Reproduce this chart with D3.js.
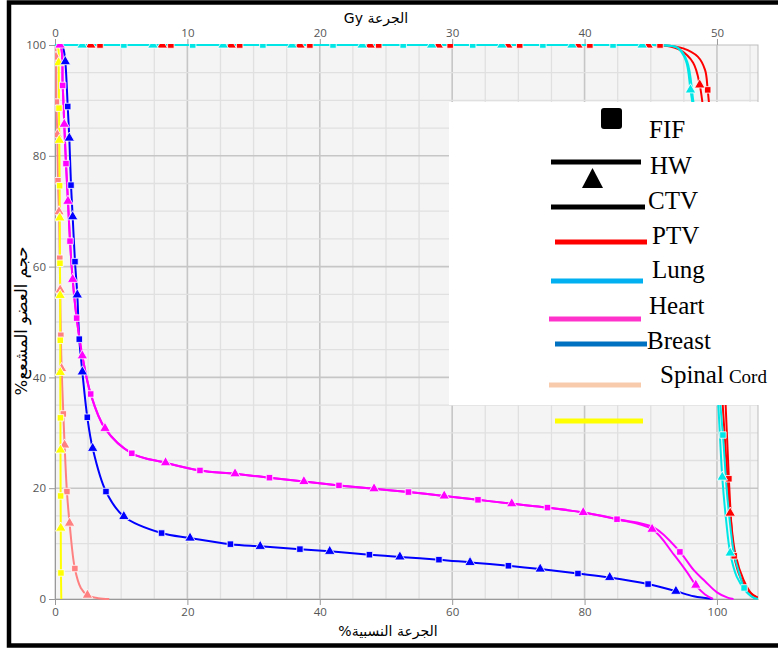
<!DOCTYPE html>
<html>
<head>
<meta charset="utf-8">
<script src="https://cdn.jsdelivr.net/npm/d3@7"></script>
<style>
body{margin:0;background:#fff;}
svg{display:block;}
</style>
</head>
<body>
<script>
// dose (% of prescription) vs volume (%), "s" = FIF square marker, "t" = HW triangle marker
var ctvFif = [[0,100],[10.4,100,"s"],[20.8,100,"s"],[31.4,100,"s"],[42.0,100,"s"],[52.6,100,"s"],[63.1,100,"s"],[73.7,100,"s"],[84.3,100,"s"],
    [92.5,99.9],[94.2,99.4],[95.5,97],[96.4,90.1],[97.5,78],[98.8,60],[100.0,42],[100.9,29.6,"s"],[101.6,18],[102.6,8],[103.4,4.5],[104.1,2.0,"s"],[105.3,0.4],[106.2,0]];
var ctvHw = [[0,100],[4.1,100,"t"],[14.8,100,"t"],[25.4,100,"t"],[35.8,100,"t"],[46.4,100,"t"],[56.9,100,"t"],[67.5,100,"t"],[78.1,100,"t"],[88.7,100,"t"],
    [92.5,99.9],[94.0,99.5],[95.3,97.2],[96.0,91.9,"t"],[96.8,85],[98.0,70],[99.3,50],[100.2,35],[100.8,22.0,"t"],[101.4,14],[102.0,8.3,"t"],[103.0,4],[104.5,1.2],[105.8,0]];
var ptvFif = [[0,100],[6.8,100,"s"],[17.5,100,"s"],[27.9,100,"s"],[38.5,100,"s"],[48.9,100,"s"],[59.7,100,"s"],[70.2,100,"s"],[80.8,100,"s"],[91.4,100,"s"],
    [94.9,99.4],[97.1,97.9],[98.2,95.5],[98.6,91.9,"s"],[99.3,82],[100.3,62],[101.2,38],[101.8,21.7,"s"],[102.2,13],[102.6,7.8,"s"],[103.5,4],[104.8,1.3],[106.2,0.2]];
var ptvHw = [[0,100],[5.4,100,"t"],[16.2,100,"t"],[26.6,100,"t"],[37.0,100,"t"],[47.6,100,"t"],[57.9,100,"t"],[68.4,100,"t"],[79.0,100,"t"],[89.6,100,"t"],
    [92.5,99.8],[94.4,99.1],[96.4,96.8],[97.4,92.8,"t"],[98.2,85],[99.3,65],[100.5,42],[101.3,27],[102.0,15.5,"t"],[102.8,8],[104.0,3.5],[105.2,1],[106.2,0.2]];
var lungDvh = [[0,100],[1.0,100],[1.3,99.2],[1.56,97.0,"t"],[1.92,88.9,"s"],[2.16,83.2,"t"],[2.42,74.7,"s"],[2.67,69.0,"t"],[3.02,60.9,"s"],[3.37,54.9,"t"],
    [3.67,46.9,"s"],[4.13,41.0,"t"],[4.88,32.8,"s"],[5.69,27.2,"t"],[7.7,19.4,"s"],[10.4,14.9,"t"],[16.1,11.9,"s"],[20.4,11.0,"t"],[26.5,9.9,"s"],[31.0,9.5,"t"],
    [37.0,9.0,"s"],[41.5,8.6,"t"],[47.5,8.0,"s"],[52.1,7.6,"t"],[58.0,7.1,"s"],[62.7,6.6,"t"],[68.5,6.0,"s"],[73.3,5.4,"t"],[79.0,4.6,"s"],[83.8,3.9,"t"],
    [89.6,2.7,"s"],[93.8,1.4,"t"],[96.5,0.5],[99.4,0]];
var heartDvh = [[0,100],[0.75,100,"t"],[1.16,92.7,"s"],[1.4,85.7,"t"],[1.66,78.6,"s"],[1.96,71.8,"t"],[2.27,64.6,"s"],[2.67,57.7,"t"],[3.27,50.7,"s"],
    [4.13,43.9,"t"],[5.39,37.0,"s"],[7.55,30.8,"t"],[11.6,26.3,"s"],[16.7,24.6,"t"],[21.9,23.2,"s"],[27.2,22.6,"t"],[32.4,21.9,"s"],[37.6,21.2,"t"],
    [42.9,20.5,"s"],[48.2,19.9,"t"],[53.4,19.3,"s"],[58.8,18.6,"t"],[63.9,17.9,"s"],[69.0,17.2,"t"],[74.4,16.5,"s"],[79.8,15.6,"t"],[84.9,14.4,"s"]];
var heartFifTail = [[90.5,12.9],[94.4,8.5,"s"],[96.5,5.2],[98.2,3.2],[100.0,1.2],[101.7,0.2],[102.5,0]];
var heartHwTail = [[90.2,12.6,"t"],[93.5,8.0],[95.5,4.8],[96.8,2.5,"t"],[98.2,0.8],[99.4,0]];
var cordDvh = [[0,100],[0.15,97.8,"t"],[0.2,89.7,"s"],[0.35,83.8,"t"],[0.45,75.5,"s"],[0.6,69.9,"t"],[0.72,61.5,"s"],[0.78,55.8,"t"],[0.88,47.6,"s"],
    [1.0,41.6,"t"],[1.26,33.4,"s"],[1.45,27.8,"t"],[1.8,19.4,"s"],[2.2,13.7,"t"],[3.0,5.5,"s"],[3.9,2],[4.9,0.7,"t"],[6.5,0.15],[8.2,0]];
var yellowDvh = [[0,100],[0.45,99.5],[0.55,96.8,"t"],[0.6,88.6,"s"],[0.65,82.8,"t"],[0.7,74.6,"s"],[0.72,68.8,"t"],[0.75,60.6,"s"],[0.78,54.8,"t"],
    [0.8,46.7,"s"],[0.8,40.9,"t"],[0.82,32.7,"s"],[0.83,26.9,"t"],[0.85,18.6,"s"],[0.87,12.8,"t"],[0.9,4.7,"s"],[0.95,0]];

var xTicks = [0,20,40,60,80,100];
var yTicks = [0,20,40,60,80,100];
var gyTicks = [0,10,20,30,40,50];

var legendLabels = ["FIF","HW","CTV","PTV","Lung","Heart","Breast","Spinal"];

var series = [
    {pts: cordDvh, color: "#ff8080", marks: "st"},
    {pts: yellowDvh, color: "#ffff00", marks: "st"},
    {pts: lungDvh, color: "#0000ff", marks: "st"},
    {pts: heartDvh.concat(heartHwTail), color: "#ff00ff", marks: "t"},
    {pts: heartDvh.concat(heartFifTail), color: "#ff00ff", marks: "s"},
    {pts: ptvFif, color: "#ff0000", marks: "s"},
    {pts: ptvHw, color: "#ff0000", marks: "t"},
    {pts: ctvFif, color: "#00e6e6", marks: "s"},
    {pts: ctvHw, color: "#00e6e6", marks: "t"}
];

var svg = d3.select("body").append("svg")
    .attr("width", 778)
    .attr("height", 648);

var x = d3.scaleLinear().domain([0, 106.2]).range([55, 758]);
var xGy = d3.scaleLinear().domain([0, 53.1]).range([55, 758]);
var y = d3.scaleLinear().domain([0, 100]).range([599, 45]);

// plot background
svg.append("rect")
    .attr("x", 55).attr("y", 45)
    .attr("width", 703).attr("height", 554)
    .attr("fill", "#f4f4f4");

svg.append("clipPath").attr("id", "clip")
    .append("rect").attr("x", 55).attr("y", 44).attr("width", 703).attr("height", 556);

// grid
var grid = svg.append("g");
grid.selectAll("line.vx")
    .data(d3.range(5, 106, 5))
    .enter().append("line")
    .attr("x1", function(d) { return x(d); })
    .attr("x2", function(d) { return x(d); })
    .attr("y1", y(100)).attr("y2", y(0))
    .attr("stroke", function(d) { return d % 20 == 0 ? "#c6c6c6" : "#e0e0e0"; })
    .attr("stroke-width", function(d) { return d % 20 == 0 ? 1.6 : 1.3; });
grid.selectAll("line.hy")
    .data(d3.range(5, 100, 5))
    .enter().append("line")
    .attr("y1", function(d) { return y(d); })
    .attr("y2", function(d) { return y(d); })
    .attr("x1", x(0)).attr("x2", 758)
    .attr("stroke", function(d) { return d % 20 == 0 ? "#c6c6c6" : "#e0e0e0"; })
    .attr("stroke-width", function(d) { return d % 20 == 0 ? 1.6 : 1.3; });

svg.append("rect")
    .attr("x", 55).attr("y", 45)
    .attr("width", 703).attr("height", 554)
    .attr("fill", "none").attr("stroke", "#bdbdbd");

// axes
function styleAxis(g) {
    g.select(".domain").attr("stroke", "#999");
    g.selectAll(".tick line").attr("stroke", "#999");
    g.selectAll(".tick text")
        .attr("fill", "#555")
        .style("font-family", "'Open Sans', sans-serif")
        .style("font-size", "11.5px");
}
svg.append("g")
    .attr("transform", "translate(55,0)")
    .call(d3.axisLeft(y).tickValues(yTicks).tickSize(6).tickSizeOuter(0).tickPadding(3))
    .call(styleAxis);
svg.append("g")
    .attr("transform", "translate(0,599)")
    .call(d3.axisBottom(x).tickValues(xTicks).tickSize(6).tickSizeOuter(0).tickPadding(3))
    .call(styleAxis);
var topAxis = svg.append("g")
    .attr("transform", "translate(0,45)")
    .call(d3.axisTop(xGy).tickValues(gyTicks).tickSize(6).tickSizeOuter(0).tickPadding(2))
    .call(styleAxis);
topAxis.select(".domain").remove();

// curves
var line = d3.line()
    .x(function(d) { return x(d[0]); })
    .y(function(d) { return y(d[1]); })
    .curve(d3.curveCatmullRom.alpha(0.5));

var plot = svg.append("g").attr("clip-path", "url(#clip)");
series.forEach(function(s) {
    plot.append("path")
        .attr("d", line(s.pts))
        .attr("fill", "none")
        .attr("stroke", s.color)
        .attr("stroke-width", 2);
});

var sq = d3.symbol().type(d3.symbolSquare).size(42);
var tri = d3.symbol().type(d3.symbolTriangle).size(48);
series.forEach(function(s) {
    var pts = s.pts.filter(function(d) { return d[2] && s.marks.indexOf(d[2]) >= 0; });
    plot.selectAll(null)
        .data(pts)
        .enter().append("path")
        .attr("d", function(d) { return d[2] == "s" ? sq() : tri(); })
        .attr("transform", function(d) { return "translate(" + x(d[0]) + "," + y(d[1]) + ")"; })
        .attr("fill", s.color)
        .attr("stroke", "#fff")
        .attr("stroke-width", 0.8);
});

// titles
svg.append("text")
    .attr("x", 376).attr("y", 23)
    .attr("text-anchor", "middle")
    .style("font-family", "'DejaVu Sans', sans-serif")
    .style("font-size", "14px")
    .text("Gy الجرعة");
svg.append("text")
    .attr("x", 388).attr("y", 636)
    .attr("text-anchor", "middle")
    .style("font-family", "'DejaVu Sans', sans-serif")
    .style("font-size", "14px")
    .text("%الجرعة النسبية");
svg.append("text")
    .attr("transform", "translate(27,321) rotate(-90)")
    .attr("text-anchor", "middle")
    .style("font-family", "'DejaVu Sans', sans-serif")
    .style("font-size", "16.5px")
    .text("%حجم العضو المشعع");

// legend
svg.append("rect")
    .attr("x", 449).attr("y", 102)
    .attr("width", 340).attr("height", 303)
    .attr("fill", "#fff");

var leg = svg.append("g")
    .style("font-family", "'Liberation Serif', 'Times New Roman', serif")
    .style("font-size", "25px")
    .attr("fill", "#000");

leg.append("rect")
    .attr("x", 601).attr("y", 108).attr("width", 21).attr("height", 21)
    .attr("rx", 3).attr("fill", "#000");
leg.append("path")
    .attr("d", d3.line()([[582, 188], [603, 188], [592.5, 168]]) + "Z")
    .attr("fill", "#000");

var legendRows = [
    {line: null, tx: 649, ty: 138},
    {line: [551, 641, 162, "#000"], tx: 650, ty: 174},
    {line: [551, 645, 207, "#000"], tx: 648, ty: 209},
    {line: [555, 647, 242, "#ff0000"], tx: 652, ty: 244},
    {line: [551, 643, 281, "#00b0f0"], tx: 652, ty: 278},
    {line: [549, 641, 319, "#ff33cc"], tx: 649, ty: 314},
    {line: [555, 647, 344, "#0070c0"], tx: 647, ty: 349},
    {line: [549, 641, 385, "#f8cbad"], tx: 660, ty: 383}
];
legendRows.forEach(function(r, i) {
    if (r.line) {
        leg.append("line")
            .attr("x1", r.line[0]).attr("x2", r.line[1])
            .attr("y1", r.line[2]).attr("y2", r.line[2])
            .attr("stroke", r.line[3]).attr("stroke-width", 5);
    }
    var t = leg.append("text").attr("x", r.tx).attr("y", r.ty).text(legendLabels[i]);
    if (i == legendLabels.length - 1) {
        t.append("tspan").attr("dx", 5).style("font-size", "19px").text("Cord");
    }
});
leg.append("line")
    .attr("x1", 555).attr("x2", 643)
    .attr("y1", 421).attr("y2", 421)
    .attr("stroke", "#ffff00").attr("stroke-width", 5);

// outer frame
svg.append("rect")
    .attr("x", 9).attr("y", 2.5)
    .attr("width", 820).attr("height", 643)
    .attr("fill", "none")
    .attr("stroke", "#000")
    .attr("stroke-width", 4.5);
</script>
</body>
</html>
